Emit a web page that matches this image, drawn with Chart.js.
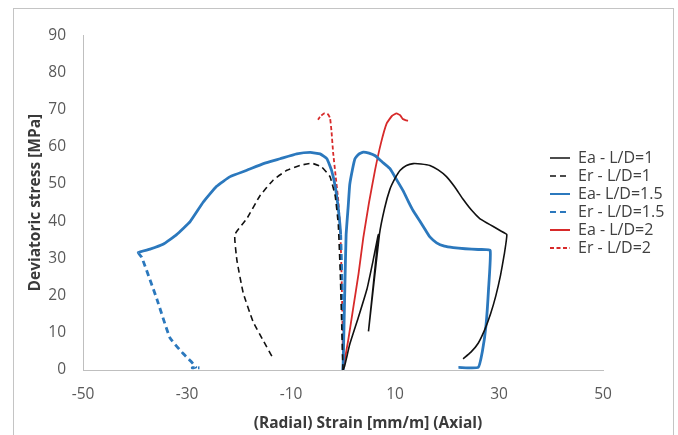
<!DOCTYPE html>
<html>
<head>
<meta charset="utf-8">
<script src="https://cdn.jsdelivr.net/npm/chart.js@4"></script>
<style>
  body { margin: 0; background: #fff; }
  #frame {
    position: absolute; left: 13px; top: 8px;
    width: 659px; height: 440px;
    border: 1px solid #c4c4c4;
  }
  canvas { display: block; }
</style>
</head>
<body>
<div id="frame"><canvas id="stressChart" width="659" height="426"></canvas></div>
<script>
// axis ticks
const xTicks = [-50, -30, -10, 10, 30, 50];
const yTicks = [0, 10, 20, 30, 40, 50, 60, 70, 80, 90];

// Ea - L/D=1 (axial, black)
const eaLD1X = [0, 0.3, 1.3, 2.9, 4.6, 5.8, 6.8, 4.9, 7.0, 8.0, 9.0, 10.0, 11.0, 12.2, 13.5, 15.0, 16.7, 18.3, 19.9, 21.5, 23.1, 24.7, 26.3, 27.6, 28.9, 30.2, 31.5, 31.0, 30.3, 29.4, 28.4, 27.3, 26.0, 24.6, 23.1];
const eaLD1Y = [0, 1, 6.9, 13.9, 21.7, 29.5, 36.4, 10.4, 36.4, 43.5, 48.5, 51.5, 53.7, 55.0, 55.5, 55.4, 55.0, 53.8, 52.0, 49.2, 45.9, 43.0, 40.7, 39.6, 38.6, 37.5, 36.4, 31.0, 25.5, 20.0, 15.2, 11.0, 7.2, 4.8, 3.0];

// Er - L/D=1 (radial, black dashed)
const erLD1X = [0, -0.2, -0.5, -0.9, -1.5, -2.5, -4.1, -6.0, -8.3, -10.8, -13.4, -16.0, -18.5, -20.8, -20.4, -19.2, -17.3, -15.3, -13.4];
const erLD1Y = [0, 10, 25, 39, 46.8, 52, 54.6, 55.6, 55.0, 53.7, 51.1, 46.8, 40.7, 36.4, 29.5, 20.8, 13.0, 7.8, 3.0];

// Ea- L/D=1.5 (axial, blue)
const eaLD15X = [0, 0.2, 0.4, 0.6, 1.0, 1.3, 1.8, 2.3, 3.0, 3.9, 5.0, 6.2, 7.5, 9.0, 10.3, 11.6, 12.6, 13.5, 14.8, 16.0, 16.7, 18.0, 19.5, 21.2, 23.5, 26.0, 28.3, 28.0, 27.5, 26.8, 26.0, 22.2];
const eaLD15Y = [0, 12, 25, 36.4, 44, 49.9, 53.8, 56.8, 58.0, 58.6, 58.3, 57.6, 56.0, 54.2, 51.2, 48.1, 45.2, 42.8, 40.0, 37.3, 35.8, 34.2, 33.3, 32.9, 32.6, 32.4, 32.2, 22, 12, 5, 0.7, 0.7];

// Er - L/D=1.5 (radial, blue)
const erLD15X = [0, 0.06, -0.2, -0.45, -0.9, -1.5, -2.2, -3.1, -4.4, -6.3, -8.9, -12.1, -15.3, -18.5, -21.7, -24.3, -26.9, -29.4, -32.0, -34.6, -37.1, -39.4, -38.7, -35.8, -33.3, -31.0, -29.3, -28.3, -29.0, -27.6];
const erLD15Y = [0, 1.8, 23.4, 36.4, 43.3, 49.4, 53.7, 56.8, 58.1, 58.5, 58.1, 56.8, 55.5, 53.7, 52.0, 49.4, 45.1, 39.9, 36.4, 33.8, 32.5, 31.6, 30.3, 19.1, 8.7, 4.8, 2.4, 0.8, 0.6, 0.6];

// Ea - L/D=2 (axial, red)
const eaLD2X = [0, 1, 2, 3, 3.9, 5.0, 6.2, 7.3, 8.4, 9.4, 10.3, 11.0, 11.5, 12.0, 12.5];
const eaLD2Y = [0, 8, 17, 26, 35.5, 45, 54, 61, 66.3, 68.3, 69.0, 68.5, 67.5, 67.2, 67.0];

// Er - L/D=2 (radial, red dashed)
const erLD2X = [0, -0.1, -0.3, -0.5, -0.9, -1.4, -1.9, -2.2, -2.5, -3.0, -3.6, -4.3, -4.8];
const erLD2Y = [0, 13, 27, 37, 45.5, 52, 58.5, 64, 67.8, 68.9, 69.0, 68.3, 67.3];

const BLACK = '#111111';
const BLUE = '#2b78bd';
const RED = '#d72a2a';
const DASH = [6, 4];
const FONT = '"Open Sans", sans-serif';

function pts(xs, ys) {
    return xs.map((x, i) => ({x: x, y: ys[i]}));
}

// the noisy middle part of Er L/D=1.5 reads as a solid line
const er15Solid = [3, 21];

const xTitle = '(Radial) Strain [mm/m] (Axial)';

const xTitlePlugin = {
    id: 'xTitle',
    afterDraw(chart) {
        const ctx = chart.ctx;
        ctx.save();
        ctx.font = 'bold 15.5px ' + FONT;
        ctx.fillStyle = '#3a3a3a';
        ctx.textAlign = 'center';
        ctx.textBaseline = 'middle';
        ctx.fillText(xTitle, 354, 415);
        ctx.restore();
    }
};

// move the legend over the right end of the plot, like the original
const legendPlace = {
    id: 'legendPlace',
    afterLayout(chart) {
        const lg = chart.legend;
        const h = lg.bottom - lg.top;
        lg.left = 534;
        lg.right = 534 + 125;
        lg.top = 139;
        lg.bottom = 139 + h;
    }
};

new Chart(document.getElementById('stressChart'), {
    type: 'scatter',
    data: {
        datasets: [
            {label: 'Ea - L/D=1', data: pts(eaLD1X, eaLD1Y), borderColor: BLACK, borderWidth: 1.6},
            {label: 'Er - L/D=1', data: pts(erLD1X, erLD1Y), borderColor: BLACK, borderWidth: 1.6, borderDash: DASH},
            {label: 'Ea- L/D=1.5', data: pts(eaLD15X, eaLD15Y), borderColor: BLUE, borderWidth: 2.8},
            {
                label: 'Er - L/D=1.5', data: pts(erLD15X, erLD15Y), borderColor: BLUE, borderWidth: 2.8, borderDash: DASH,
                segment: {
                    borderDash: ctx => (ctx.p0DataIndex >= er15Solid[0] && ctx.p1DataIndex <= er15Solid[1]) ? [] : undefined
                }
            },
            {label: 'Ea - L/D=2', data: pts(eaLD2X, eaLD2Y), borderColor: RED, borderWidth: 1.8},
            {label: 'Er - L/D=2', data: pts(erLD2X, erLD2Y), borderColor: RED, borderWidth: 1.8, borderDash: [4, 2.5]}
        ]
    },
    options: {
        responsive: false,
        animation: false,
        showLine: true,
        elements: {
            point: {radius: 0, hoverRadius: 0},
            line: {tension: 0.12, fill: false}
        },
        layout: {padding: {top: 14.5, left: 0, right: 0, bottom: 0}},
        scales: {
            x: {
                type: 'linear',
                min: -50,
                max: 50,
                grid: {display: false, drawTicks: false},
                border: {display: true, color: '#bfbfbf', width: 1},
                ticks: {color: '#595959', font: {family: FONT, size: 15.5}, padding: 15},
                afterBuildTicks: s => { s.ticks = xTicks.map(v => ({value: v})); },
                afterFit: s => { s.height = 65; }
            },
            y: {
                type: 'linear',
                min: 0,
                max: 90,
                grid: {display: false, drawTicks: false},
                border: {display: true, color: '#bfbfbf', width: 1},
                ticks: {color: '#595959', font: {family: FONT, size: 15.5}, padding: 17},
                title: {
                    display: true,
                    text: 'Deviatoric stress [MPa]',
                    color: '#3a3a3a',
                    font: {family: FONT, size: 15.5, weight: 'bold'},
                    padding: {top: 12, bottom: 0}
                },
                afterBuildTicks: s => { s.ticks = yTicks.map(v => ({value: v})); },
                afterFit: s => { s.width = 69; }
            }
        },
        plugins: {
            tooltip: {enabled: false},
            legend: {
                position: 'right',
                align: 'start',
                maxWidth: 70,
                labels: {
                    usePointStyle: true,
                    pointStyle: 'line',
                    pointStyleWidth: 20,
                    padding: 2,
                    color: '#404040',
                    font: {family: FONT, size: 16},
                    // take dash and width from the line, not from the (hidden) points
                    generateLabels: chart => {
                        const items = Chart.defaults.plugins.legend.labels.generateLabels(chart);
                        items.forEach(item => {
                            const ds = chart.data.datasets[item.datasetIndex];
                            item.lineDash = ds.borderDash || [];
                            item.lineWidth = Math.min(ds.borderWidth, 2);
                            item.strokeStyle = ds.borderColor;
                        });
                        return items;
                    }
                }
            }
        }
    },
    plugins: [xTitlePlugin, legendPlace]
});
</script>
</body>
</html>
